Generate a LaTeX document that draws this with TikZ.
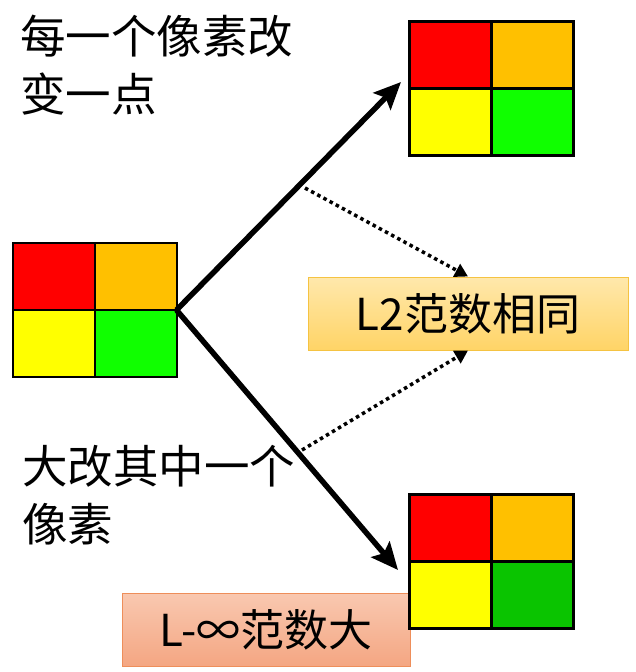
\documentclass[tikz,border=0pt]{standalone}
\usepackage{fontspec}
\setmainfont{Noto Sans CJK SC}
\usetikzlibrary{arrows.meta,shadings}
\definecolor{cred}{HTML}{FF0000}
\definecolor{corange}{HTML}{FFC000}
\definecolor{cyellow}{HTML}{FFFF00}
\definecolor{cgreen}{HTML}{10FF00}
\definecolor{cdgreen}{HTML}{0AC400}
\definecolor{ltop}{HTML}{FFE8AC}
\definecolor{lbot}{HTML}{FFD466}
\definecolor{lbord}{HTML}{F5C342}
\definecolor{itop}{HTML}{F9C8B0}
\definecolor{ibot}{HTML}{F4A682}
\definecolor{ibord}{HTML}{EE8E5A}
\tikzset{
  cell/.style={draw=black, line width=#1, minimum width=82pt, minimum height=67pt, inner sep=0pt, outer sep=0pt},
  cell/.default=2pt,
  bigtext/.style={font=\fontsize{44}{57}\selectfont, text=black},
  sidetext/.style={font=\fontsize{45.5}{58}\selectfont, text=black, anchor=north west, align=left, inner sep=0pt},
  normbox/.style={bigtext, inner sep=0pt, minimum height=73pt, line width=1pt},
  thickarrow/.style={line width=5.5pt, -{Stealth[length=27pt,width=24pt,inset=5pt]}},
  dotarrow/.style={line width=3.5pt, dash pattern=on 3.5pt off 3.5pt, -{Triangle[length=13pt,width=14pt]}},
}
\begin{document}
\begin{tikzpicture}[x=1pt,y=-1pt]
\useasboundingbox (0,0) rectangle (636,672);
% left grid
\node[cell, fill=cred] (a1) at (53.5,276.5) {};
\node[cell, fill=corange] (a2) at (135.5,276.5) {};
\node[cell, fill=cyellow] (a3) at (53.5,343.5) {};
\node[cell, fill=cgreen] (a4) at (135.5,343.5) {};
\node[draw=black, line width=2pt, minimum width=164pt, minimum height=134pt, inner sep=0pt, outer sep=0pt] (g0) at (94.5,310) {};
% top right grid
\node[cell=3pt, fill=cred] (b1) at (450.5,54.5) {};
\node[cell=3pt, fill=corange] (b2) at (532.5,54.5) {};
\node[cell=3pt, fill=cyellow] (b3) at (450.5,121.5) {};
\node[cell=3pt, fill=cgreen] (b4) at (532.5,121.5) {};
% L-inf box
\node[normbox, draw=ibord, top color=itop, bottom color=ibot, minimum width=288pt] (linf) at (266,630) {L-∞范数大};
% bottom right grid
\node[cell=3pt, fill=cred] (c1) at (450.5,527.5) {};
\node[cell=3pt, fill=corange] (c2) at (532.5,527.5) {};
\node[cell=3pt, fill=cyellow] (c3) at (450.5,594.5) {};
\node[cell=3pt, fill=cdgreen] (c4) at (532.5,594.5) {};
% L2 box
\node[normbox, draw=lbord, top color=ltop, bottom color=lbot, minimum width=320pt] (l2) at (468,313.5) {L2范数相同};
% texts
\node[sidetext] (t1) at (20,15) {每一个像素改\\变一点};
\node[sidetext] (t2) at (22,445) {大改其中一个\\像素};
% arrows
\coordinate (up) at (401,82);
\coordinate (dn) at (398,570);
\draw[thickarrow] (g0.east) -- (up);
\draw[thickarrow] (g0.east) -- (dn);
\coordinate (s1) at (305,188);
\coordinate (s2) at (302,450);
\draw[dotarrow] (s1) -- (l2.north);
\draw[dotarrow] (s2) -- (l2.south);
\end{tikzpicture}
\end{document}
